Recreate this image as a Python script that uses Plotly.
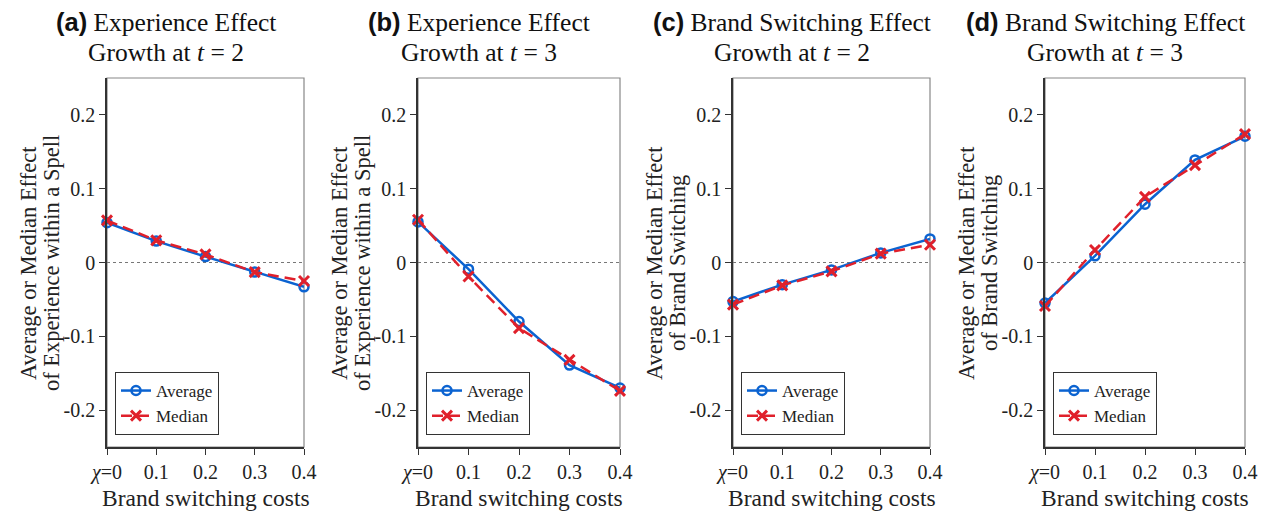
import plotly.graph_objects as go

x_vals = [0.0, 0.1, 0.2, 0.3, 0.4]
tick_vals = [0.0, 0.1, 0.2, 0.3, 0.4]
tick_text = ["<i>χ</i>=0", "0.1", "0.2", "0.3", "0.4"]
y_tick_vals = [-0.2, -0.1, 0.0, 0.1, 0.2]
y_tick_text = ["-0.2", "-0.1", "0", "0.1", "0.2"]

avg_a = [0.054, 0.029, 0.008, -0.013, -0.033]
med_a = [0.057, 0.030, 0.011, -0.013, -0.025]
avg_b = [0.055, -0.009, -0.080, -0.139, -0.170]
med_b = [0.058, -0.019, -0.089, -0.132, -0.174]
avg_c = [-0.053, -0.030, -0.010, 0.013, 0.032]
med_c = [-0.057, -0.031, -0.012, 0.012, 0.024]
avg_d = [-0.055, 0.009, 0.079, 0.139, 0.171]
med_d = [-0.059, 0.017, 0.089, 0.132, 0.174]

panel_letters = ["(a)", "(b)", "(c)", "(d)"]
panel_titles = ["Experience Effect", "Experience Effect", "Brand Switching Effect", "Brand Switching Effect"]
panel_t = ["2", "3", "2", "3"]
y_title_1 = ["Average or Median Effect"] * 4
y_title_2 = ["of Experience within a Spell", "of Experience within a Spell",
             "of Brand Switching", "of Brand Switching"]
x_title = "Brand switching costs"
avgs = [avg_a, avg_b, avg_c, avg_d]
meds = [med_a, med_b, med_c, med_d]

BLUE = "#0b63d1"
RED = "#e0202b"
SERIF = "Liberation Serif"
TXT = "#222222"

W, H = 1262, 512
ml, mr, mt, mb = 107, 17, 78, 65
pw = W - ml - mr
ph = H - mt - mb
px_domains = [(107, 304), (418, 620), (733, 930), (1045, 1245)]
domains = [((a - ml) / pw, (b - ml) / pw) for a, b in px_domains]


def px_x(px):
    return (px - ml) / pw


def px_y(py):
    return (H - mb - py) / ph


fig = go.Figure()
legend_names = ["legend", "legend2", "legend3", "legend4"]
layout = dict(
    width=W, height=H,
    margin=dict(l=ml, r=mr, t=mt, b=mb, autoexpand=False),
    plot_bgcolor="white", paper_bgcolor="white",
    font=dict(family=SERIF, color=TXT, size=18),
    showlegend=True,
)
annotations = []
shapes = []
for i in range(4):
    xa = "x" if i == 0 else f"x{i+1}"
    ya = "y" if i == 0 else f"y{i+1}"
    lg = legend_names[i]
    fig.add_trace(go.Scatter(
        x=x_vals, y=avgs[i], xaxis=xa, yaxis=ya, name="Average", legend=lg,
        mode="lines+markers", cliponaxis=False,
        line=dict(color=BLUE, width=2.5),
        marker=dict(symbol="circle-open", size=9, color=BLUE, line=dict(width=2.5, color=BLUE)),
    ))
    fig.add_trace(go.Scatter(
        x=x_vals, y=meds[i], xaxis=xa, yaxis=ya, name="Median", legend=lg,
        mode="lines+markers", cliponaxis=False,
        line=dict(color=RED, width=2.5, dash="11px,6px"),
        marker=dict(symbol="x-thin-open", size=10, color=RED, line=dict(width=3, color=RED)),
    ))
    xkey = "xaxis" if i == 0 else f"xaxis{i+1}"
    ykey = "yaxis" if i == 0 else f"yaxis{i+1}"
    layout[xkey] = dict(
        domain=list(domains[i]), anchor=ya, range=[0, 0.4], automargin=False,
        tickvals=tick_vals, ticktext=tick_text, ticks="outside", ticklen=6,
        tickcolor="#333", showline=True, linecolor="#333", linewidth=1.5,
        showgrid=False, zeroline=False,
        tickfont=dict(family=SERIF, size=20, color=TXT),
    )
    layout[ykey] = dict(
        domain=[0, 1], anchor=xa, range=[-0.25, 0.25], automargin=False,
        tickvals=y_tick_vals, ticktext=y_tick_text, ticks="outside", ticklen=6,
        tickcolor="#333", showline=True, linecolor="#333", linewidth=1.5,
        showgrid=False, zeroline=False,
        tickfont=dict(family=SERIF, size=20, color=TXT),
    )
    shapes.append(dict(type="rect", xref=f"{xa} domain", yref=f"{ya} domain",
                       x0=0, x1=1, y0=0, y1=1, line=dict(color="#888", width=1.2), layer="below"))
    shapes.append(dict(type="line", xref=f"{xa} domain", yref=ya, x0=0, x1=1, y0=0, y1=0,
                       line=dict(color="#777", width=1, dash="dot"), layer="below"))
    left, right = px_domains[i]
    cx = (left + right) / 2 - 40
    annotations.append(dict(
        xref="paper", yref="paper", x=px_x(cx), y=px_y(22), xanchor="center", yanchor="middle",
        showarrow=False,
        text=f"<span style='font-family:Liberation Sans'><b>{panel_letters[i]}</b></span> {panel_titles[i]}",
        font=dict(family=SERIF, size=25.5, color="#111"),
    ))
    annotations.append(dict(
        xref="paper", yref="paper", x=px_x(cx), y=px_y(52), xanchor="center", yanchor="middle",
        showarrow=False,
        text=f"Growth at <i>t</i> = {panel_t[i]}",
        font=dict(family=SERIF, size=25.5, color="#111"),
    ))
    annotations.append(dict(
        xref="paper", yref="paper", x=px_x(left - 79), y=px_y(263), xanchor="center", yanchor="middle",
        showarrow=False, textangle=-90, text=y_title_1[i],
        font=dict(family=SERIF, size=22.5, color=TXT),
    ))
    annotations.append(dict(
        xref="paper", yref="paper", x=px_x(left - 56), y=px_y(263), xanchor="center", yanchor="middle",
        showarrow=False, textangle=-90, text=y_title_2[i],
        font=dict(family=SERIF, size=22.5, color=TXT),
    ))
    annotations.append(dict(
        xref="paper", yref="paper", x=px_x((left + right) / 2), y=px_y(498), xanchor="center", yanchor="middle",
        showarrow=False, text=x_title,
        font=dict(family=SERIF, size=23.5, color=TXT),
    ))
    layout[lg] = dict(
        x=px_x(left + 8), y=px_y(435),
        xanchor="left", yanchor="bottom", bgcolor="white",
        bordercolor="#333", borderwidth=1,
        font=dict(family=SERIF, size=17, color=TXT),
        tracegroupgap=0, itemwidth=30,
    )

layout["annotations"] = annotations
layout["shapes"] = shapes
fig.update_layout(**layout)
fig.write_html("out.html")
